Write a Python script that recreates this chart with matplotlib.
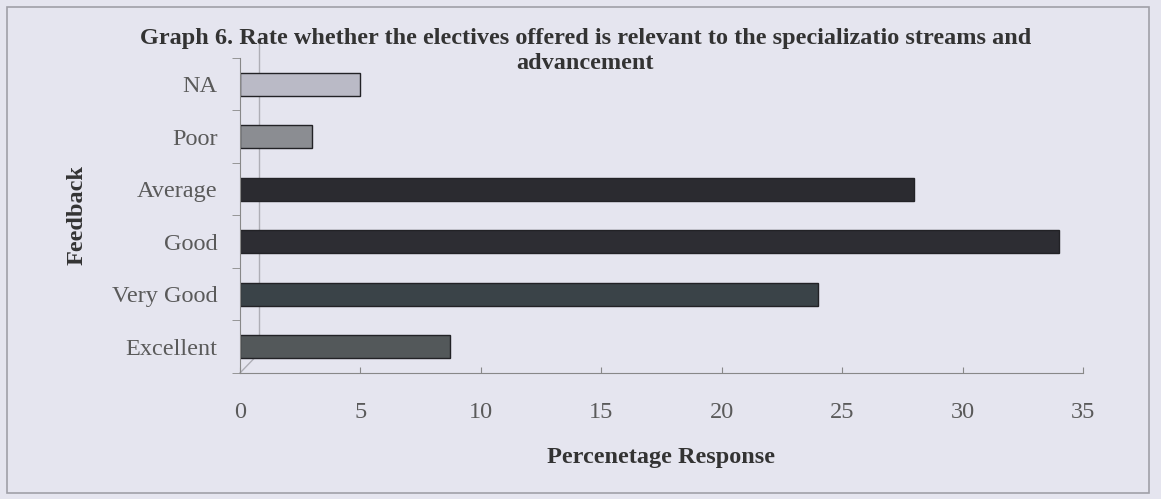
import matplotlib.pyplot as plt
from matplotlib.patches import Rectangle

# data (bottom to top)
categories = ['Excellent', 'Very Good', 'Good', 'Average', 'Poor', 'NA']
values = [8.7, 24.0, 34.0, 28.0, 3.0, 5.0]
bar_colors = ['#53585a', '#3a4348', '#2d2d33', '#2b2b30', '#8b8d92', '#babac6']
xticks = [0, 5, 10, 15, 20, 25, 30, 35]

bg = '#e5e5ef'
plt.rcParams['font.family'] = ['Liberation Serif', 'DejaVu Serif']
fs = 17.5

fig = plt.figure(figsize=(11.61, 4.99), dpi=100, facecolor=bg)
ax = fig.add_axes([0.2067, 0.2525, 0.7261, 0.6313], facecolor=bg)

y = list(range(len(categories)))
ax.barh(y, values, height=0.44, color=bar_colors, edgecolor='#222226', linewidth=1.0, zorder=2)

ax.set_xlim(0, 35)
ax.set_ylim(-0.5, len(categories) - 0.5)
ax.set_xticks(xticks)
ax.set_xticklabels([str(t) for t in xticks], fontsize=fs, color='#5a5a5a')
ax.set_yticks(y)
ax.set_yticklabels(categories, fontsize=fs, color='#5a5a5a')
ax.tick_params(axis='y', length=0, pad=16)
ax.tick_params(axis='x', length=4, direction='in', color='#888888', pad=21)

# ticks between categories on the y axis
ax.set_yticks([i - 0.5 for i in range(len(categories) + 1)], minor=True)
ax.tick_params(axis='y', which='minor', length=6, color='#888888', direction='out')

for s in ['top', 'right']:
    ax.spines[s].set_visible(False)
ax.spines['left'].set_color('#888888')
ax.spines['bottom'].set_color('#888888')

# faint back wall of the 3d frame
ax.plot([0.8, 0.8], [-0.12, 5.88], color='#aeaeb6', lw=1, clip_on=False, zorder=1)
ax.plot([0, 0.8], [-0.5, -0.12], color='#aeaeb6', lw=1, clip_on=False, zorder=1)

ax.set_xlabel('Percenetage Response', fontsize=fs, fontweight='bold', color='#333333', labelpad=17)
ax.set_ylabel('Feedback', fontsize=fs, fontweight='bold', color='#333333')
ax.yaxis.set_label_coords(-0.181, 0.5)

fig.text(0.504, 0.922, 'Graph 6. Rate whether the electives offered is relevant to the specializatio streams and',
         ha='center', va='center', fontsize=fs, fontweight='bold', color='#333333')
fig.text(0.504, 0.872, 'advancement', ha='center', va='center', fontsize=fs,
         fontweight='bold', color='#333333')

fig.patches.append(Rectangle((0.006, 0.012), 0.984, 0.973, transform=fig.transFigure,
                             fill=False, edgecolor='#a0a0a8', linewidth=1.2))

fig.savefig('out.png', dpi=100, facecolor=bg)
